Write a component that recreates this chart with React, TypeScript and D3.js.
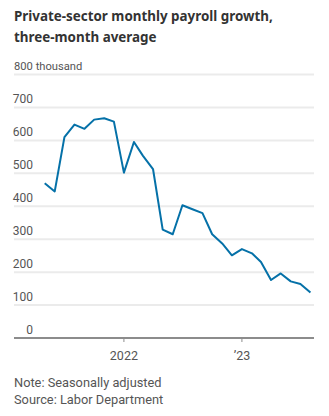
import React from "react";
import * as d3 from "d3";

const months: string[] = [
  "2021-05", "2021-06", "2021-07", "2021-08", "2021-09", "2021-10", "2021-11", "2021-12",
  "2022-01", "2022-02", "2022-03", "2022-04", "2022-05", "2022-06", "2022-07", "2022-08",
  "2022-09", "2022-10", "2022-11", "2022-12", "2023-01", "2023-02", "2023-03", "2023-04",
  "2023-05", "2023-06", "2023-07", "2023-08",
];
const payrollGrowth: number[] = [
  470, 445, 610, 648, 635, 663, 667, 657,
  502, 595, 553, 513, 329, 315, 403, 391,
  379, 315, 287, 251, 270, 257, 231, 176,
  196, 172, 164, 138,
];
const yTicks: number[] = [0, 100, 200, 300, 400, 500, 600, 700, 800];
const xTickDates: string[] = ["2022-01-01", "2023-01-01"];
const xTickLabels: string[] = ["2022", "\u201923"];

const titleLines = ["Private-sector monthly payroll growth,", "three-month average"];
const noteLines = ["Note: Seasonally adjusted", "Source: Labor Department"];

const W = 329;
const H = 416;
const FONT = "Roboto, 'Noto Sans', sans-serif";

export default function App() {
  const parse = d3.utcParse("%Y-%m");
  const parseDay = d3.utcParse("%Y-%m-%d");
  const data = months.map((m, i) => ({ date: parse(m) as Date, value: payrollGrowth[i] }));

  const left = 14;
  const right = 314;
  const x = d3
    .scaleUtc()
    .domain([parseDay("2021-01-26") as Date, parseDay("2023-08-12") as Date])
    .range([left, right]);
  const y = d3.scaleLinear().domain([0, 800]).range([338, 74.5]);

  const line = d3
    .line<{ date: Date; value: number }>()
    .x((d) => x(d.date))
    .y((d) => y(d.value));

  return (
    <svg width={W} height={H} style={{ position: "absolute", left: 0, top: 0, background: "#fff" }}>
      {titleLines.map((t, i) => (
        <text
          key={t}
          x={14}
          y={21 + i * 21}
          fontFamily="'Noto Sans', sans-serif"
          fontWeight={700}
          fontSize={13.4}
          fill="#333"
        >
          {t}
        </text>
      ))}
      {yTicks.map((v) =>
        v === 0 ? null : (
          <line key={"g" + v} x1={left} x2={right} y1={y(v)} y2={y(v)} stroke="#ebebeb" strokeWidth={2} />
        )
      )}
      {yTicks.map((v) =>
        v === 800 ? (
          <text key={"l" + v} x={14} y={y(v) - 4.5} fontFamily={FONT} fontSize={11.2} fill="#555">
            800 thousand
          </text>
        ) : (
          <text key={"l" + v} x={33} y={y(v) - 4.5} textAnchor="end" fontFamily={FONT} fontSize={12} fill="#555">
            {v}
          </text>
        )
      )}
      <line x1={left} x2={right} y1={y(0)} y2={y(0)} stroke="#8c8c8c" strokeWidth={2} />
      {xTickDates.map((d, i) => {
        const xx = x(parseDay(d) as Date);
        return (
          <g key={d}>
            <line x1={xx} x2={xx} y1={y(0)} y2={y(0) + 4} stroke="#8c8c8c" strokeWidth={1} />
            <text x={xx} y={360} textAnchor="middle" fontFamily={FONT} fontSize={12.5} fill="#555">
              {xTickLabels[i]}
            </text>
          </g>
        );
      })}
      <path d={line(data) || ""} fill="none" stroke="#0571a8" strokeWidth={2} strokeLinejoin="round" />
      {noteLines.map((t, i) => (
        <text key={t} x={14} y={387 + i * 17} fontFamily={FONT} fontSize={12.8} fill="#555">
          {t}
        </text>
      ))}
    </svg>
  );
}
